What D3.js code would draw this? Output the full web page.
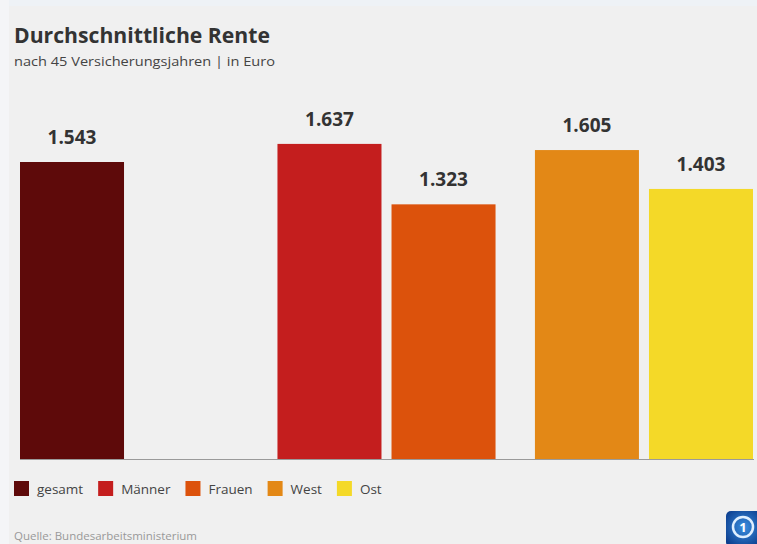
<!DOCTYPE html>
<html>
<head>
<meta charset="utf-8">
<script src="https://cdn.jsdelivr.net/npm/d3@7"></script>
<style>
  html, body { margin: 0; padding: 0; background: #f0f0f0; }
  svg { display: block; }
</style>
</head>
<body>
<div id="chart"></div>
<script>
// daten
var categories = ["gesamt", "Männer", "Frauen", "West", "Ost"];
var groupOf = ["gesamt", "geschlecht", "geschlecht", "region", "region"];
var slotOf = [0, 0, 1, 0, 1];
var values = [1543, 1637, 1323, 1605, 1403];
var colours = ["#5e0a0a", "#c41e1e", "#dc520c", "#e38816", "#f4d928"];

var w = 757, h = 544;
var baseline = 459;

var svg = d3.select("#chart").append("svg")
  .attr("width", w)
  .attr("height", h);

// hintergrund
svg.append("rect").attr("width", w).attr("height", h).attr("fill", "#f0f0f0");
svg.append("rect").attr("width", w).attr("height", 6).attr("fill", "#eef2f6");
svg.append("rect").attr("width", 9).attr("height", h).attr("fill", "#f4f5f7");

// titel
svg.append("text")
  .attr("x", 14).attr("y", 43)
  .attr("font-family", "Open Sans")
  .attr("font-weight", "bold")
  .attr("font-size", 22)
  .attr("fill", "#333")
  .attr("textLength", 256)
  .attr("lengthAdjust", "spacingAndGlyphs")
  .text("Durchschnittliche Rente");

svg.append("text")
  .attr("x", 14).attr("y", 66)
  .attr("font-family", "Open Sans")
  .attr("font-size", 13)
  .attr("fill", "#444")
  .attr("textLength", 261)
  .attr("lengthAdjust", "spacingAndGlyphs")
  .text("nach 45 Versicherungsjahren | in Euro");

// scales
var x0 = d3.scaleBand()
  .domain(["gesamt", "geschlecht", "region"])
  .range([20, 753])
  .paddingInner(0.153);

var x1 = d3.scaleBand()
  .domain([0, 1])
  .range([0, x0.bandwidth()])
  .paddingInner(0.088);

var y = d3.scaleLinear()
  .domain([0, 1543])
  .range([baseline, 162]);

var fmt = function (v) { return d3.format(",")(v).replace(/,/g, "."); };

var bars = svg.selectAll(".bar")
  .data(values)
  .enter()
  .append("g");

bars.append("rect")
  .attr("x", function (d, i) { return x0(groupOf[i]) + x1(slotOf[i]); })
  .attr("y", function (d) { return y(d); })
  .attr("width", x1.bandwidth())
  .attr("height", function (d) { return baseline - y(d); })
  .attr("fill", function (d, i) { return colours[i]; });

bars.append("text")
  .attr("x", function (d, i) { return x0(groupOf[i]) + x1(slotOf[i]) + x1.bandwidth() / 2; })
  .attr("y", function (d) { return y(d) - 18; })
  .attr("text-anchor", "middle")
  .attr("font-family", "Open Sans")
  .attr("font-weight", "bold")
  .attr("font-size", 19)
  .attr("fill", "#333")
  .text(function (d) { return fmt(d); });

// grundlinie
svg.append("line")
  .attr("x1", 20).attr("x2", 754)
  .attr("y1", baseline + 0.5).attr("y2", baseline + 0.5)
  .attr("stroke", "#9a9a9a")
  .attr("stroke-width", 1);

// legende
var lx = 14;
categories.forEach(function (c, i) {
  svg.append("rect")
    .attr("x", lx).attr("y", 481)
    .attr("width", 15).attr("height", 15)
    .attr("fill", colours[i]);
  var t = svg.append("text")
    .attr("x", lx + 23).attr("y", 494)
    .attr("font-family", "Open Sans")
    .attr("font-size", 13.5)
    .attr("fill", "#444")
    .text(c);
  lx = lx + 23 + t.node().getComputedTextLength() + 15;
});

// quelle
svg.append("text")
  .attr("x", 14).attr("y", 540)
  .attr("font-family", "Open Sans")
  .attr("font-size", 11)
  .attr("fill", "#999")
  .attr("textLength", 183)
  .attr("lengthAdjust", "spacingAndGlyphs")
  .text("Quelle: Bundesarbeitsministerium");

// logo
var defs = svg.append("defs");
var grad = defs.append("radialGradient").attr("id", "logoGrad")
  .attr("cx", "50%").attr("cy", "45%").attr("r", "65%");
grad.append("stop").attr("offset", "0%").attr("stop-color", "#3a8ee0");
grad.append("stop").attr("offset", "100%").attr("stop-color", "#0a3a8a");

svg.append("rect")
  .attr("x", 726).attr("y", 511)
  .attr("width", 36).attr("height", 36)
  .attr("rx", 5)
  .attr("fill", "url(#logoGrad)");
svg.append("circle")
  .attr("cx", 743).attr("cy", 527).attr("r", 10)
  .attr("fill", "none")
  .attr("stroke", "#dfefff")
  .attr("stroke-width", 2.5);
svg.append("text")
  .attr("x", 743).attr("y", 532)
  .attr("text-anchor", "middle")
  .attr("font-family", "Open Sans")
  .attr("font-weight", "bold")
  .attr("font-size", 13)
  .attr("fill", "#ffffff")
  .text("1");
</script>
</body>
</html>
